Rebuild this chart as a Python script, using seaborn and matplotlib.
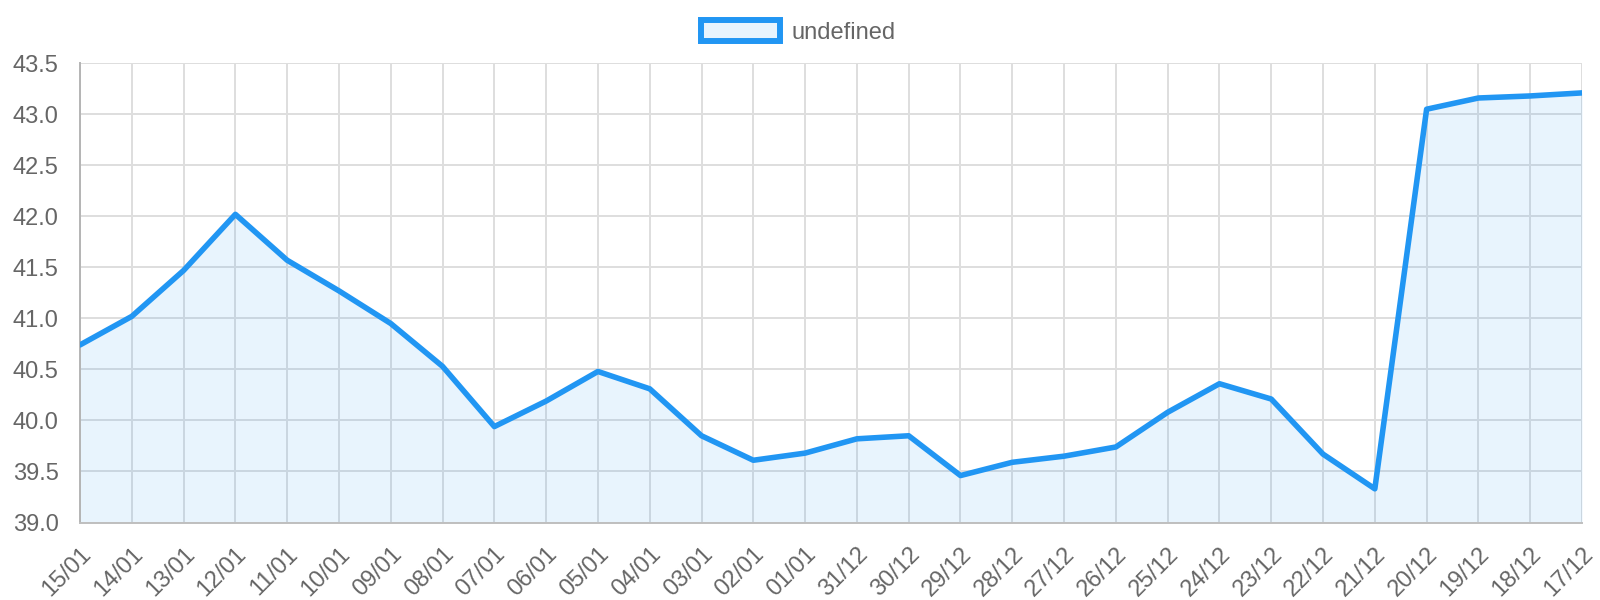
import numpy as np
import pandas as pd
import matplotlib
matplotlib.use("Agg")
import matplotlib.pyplot as plt
import seaborn as sns
from matplotlib.patches import Patch

# Data
dates = ['15/01', '14/01', '13/01', '12/01', '11/01', '10/01', '09/01', '08/01',
         '07/01', '06/01', '05/01', '04/01', '03/01', '02/01', '01/01', '31/12',
         '30/12', '29/12', '28/12', '27/12', '26/12', '25/12', '24/12', '23/12',
         '22/12', '21/12', '20/12', '19/12', '18/12', '17/12']
values = [40.74, 41.02, 41.47, 42.02, 41.57, 41.27, 40.95, 40.53,
          39.94, 40.19, 40.48, 40.31, 39.85, 39.61, 39.68, 39.82,
          39.85, 39.46, 39.59, 39.65, 39.74, 40.08, 40.36, 40.21,
          39.67, 39.33, 43.05, 43.16, 43.18, 43.21]
series_name = 'undefined'

df = pd.DataFrame({'pos': np.arange(len(dates)), 'date': dates, 'value': values})

sns.set_style('white')
plt.rcParams['font.family'] = ['Liberation Sans', 'DejaVu Sans']

line_color = '#2196F3'
grid_color = '#dedede'
text_color = '#666666'
fs = 17

fig = plt.figure(figsize=(16, 6), dpi=100)
ax = fig.add_axes([80 / 1600, 77.5 / 600, 1502 / 1600, 459.2 / 600])

# fill under the line, then the line itself
ax.fill_between(df['pos'], df['value'], 39.0, color=line_color, alpha=0.1,
                linewidth=0, zorder=1)
sns.lineplot(data=df, x='pos', y='value', ax=ax, color=line_color, linewidth=4,
             zorder=3, legend=False)

ax.set_xlim(0, len(dates) - 1)
ax.set_ylim(39.0, 43.5)
yt = np.arange(39.0, 43.51, 0.5)
ax.set_yticks(yt)
ax.set_yticklabels([f'{v:.1f}' for v in yt])
ax.set_xticks(df['pos'])
ax.set_xticklabels(dates, rotation=45, ha='right', va='top', rotation_mode='anchor')

ax.grid(True, color=grid_color, linewidth=1.4)
ax.set_axisbelow(True)
ax.tick_params(axis='both', length=14.4, width=1.4, color=grid_color,
               labelsize=fs, labelcolor=text_color)
ax.tick_params(axis='y', pad=1)
ax.tick_params(axis='x', pad=0.5)
ax.set_xlabel('')
ax.set_ylabel('')

for side in ['top', 'right']:
    ax.spines[side].set_visible(False)
ax.spines['left'].set_color('#b4b4b4')
ax.spines['bottom'].set_color('#bfbfbf')
ax.spines['left'].set_linewidth(1.4)
ax.spines['bottom'].set_linewidth(1.4)

handle = Patch(facecolor=(33 / 255, 150 / 255, 243 / 255, 0.1), edgecolor=line_color,
               linewidth=4.3, label=series_name)
fig.legend(handles=[handle], loc='center', bbox_to_anchor=(0.499, 1 - 31.7 / 600),
           frameon=False, fontsize=fs, labelcolor=text_color,
           handlelength=3.33, handleheight=1.0, handletextpad=0.5)

fig.savefig('out.png', dpi=100)
